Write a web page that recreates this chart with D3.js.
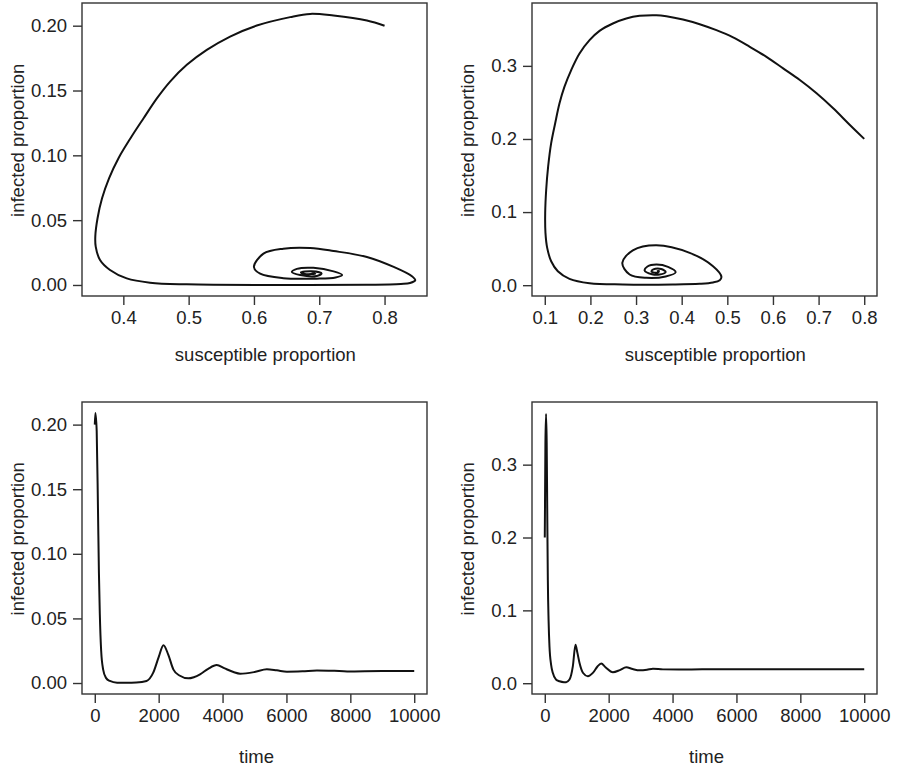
<!DOCTYPE html>
<html>
<head>
<meta charset="utf-8">
<script src="https://cdn.jsdelivr.net/npm/d3@7"></script>
<style>
  body { margin: 0; background: #fff; }
  svg text { font-family: "Liberation Sans", Arial, Helvetica, sans-serif; fill: #222; }
</style>
</head>
<body>
<svg id="chart" width="897" height="769"></svg>
<script>
// tick values
const ticksPhaseXA = [0.4, 0.5, 0.6, 0.7, 0.8];
const ticksPhaseXB = [0.1, 0.2, 0.3, 0.4, 0.5, 0.6, 0.7, 0.8];
const ticksTime = [0, 2000, 4000, 6000, 8000, 10000];
const ticksInfA = [0, 0.05, 0.10, 0.15, 0.20];
const ticksInfB = [0, 0.1, 0.2, 0.3];

// phase portrait, first run: [susceptible, infected]
const phaseA = [
  [0.800,0.2000],[0.773,0.2040],[0.7218,0.2078],[0.6861,0.2091],[0.6555,0.2066],[0.6044,0.2001],
  [0.5635,0.1916],[0.5278,0.1813],[0.4972,0.1698],[0.4716,0.1569],[0.4516,0.1441],[0.4310,0.1286],
  [0.4110,0.1132],[0.3926,0.0978],[0.3781,0.0823],[0.3674,0.0669],[0.3605,0.0515],[0.3571,0.0378],
  [0.3577,0.0296],[0.3643,0.0193],[0.3796,0.0116],[0.4052,0.0051],[0.4409,0.0018],[0.4971,0.0005],
  [0.620,0.0000],[0.773,0.0002],[0.825,0.0008],[0.839,0.0015],[0.847,0.0036],[0.842,0.0067],
  [0.814,0.0139],[0.773,0.0216],[0.722,0.0262],[0.686,0.0285],[0.645,0.0280],[0.6146,0.0242],
  [0.600,0.0139],[0.6095,0.0087],[0.645,0.0052],[0.696,0.0049],[0.725,0.0058],[0.735,0.0077],
  [0.722,0.0105],[0.691,0.0132],[0.6657,0.0124],[0.658,0.0100],[0.6708,0.0077],[0.6964,0.0070],
  [0.7035,0.0090],[0.688,0.0105],[0.672,0.0097],[0.678,0.0085],[0.694,0.0087],[0.688,0.0092]
];

// phase portrait, second run
const phaseB = [
  [0.800,0.2001],[0.7686,0.2192],[0.732,0.2420],[0.6956,0.2625],[0.6589,0.2806],[0.6223,0.2966],
  [0.5858,0.3124],[0.5492,0.3261],[0.5126,0.3389],[0.4761,0.3488],[0.4395,0.3570],[0.4028,0.3634],
  [0.3664,0.3679],[0.3445,0.3693],[0.3078,0.3684],[0.2786,0.3648],[0.2492,0.3580],[0.2200,0.3479],
  [0.1981,0.3352],[0.1761,0.3170],[0.1579,0.2943],[0.1432,0.2715],[0.1323,0.2488],[0.1228,0.2216],
  [0.1140,0.1943],[0.1074,0.1624],[0.1031,0.1306],[0.1009,0.0988],[0.1015,0.0715],[0.1053,0.0510],
  [0.1140,0.0327],[0.1286,0.0191],[0.1542,0.0087],[0.1981,0.0027],[0.2712,0.0010],[0.3809,0.0010],
  [0.4395,0.0019],[0.4687,0.0037],[0.4834,0.0068],[0.4871,0.0115],[0.4687,0.0260],[0.4175,0.0442],
  [0.3445,0.0546],[0.293,0.0477],[0.2699,0.0306],[0.2859,0.0146],[0.3225,0.0101],[0.365,0.0120],
  [0.3868,0.0177],[0.370,0.0250],[0.3445,0.0282],[0.325,0.0255],[0.3188,0.0200],[0.335,0.0150],
  [0.3517,0.0146],[0.365,0.0180],[0.355,0.0222],[0.338,0.0215],[0.334,0.0185],[0.348,0.0172],
  [0.350,0.0195],[0.3458,0.0191]
];

// infected proportion over time: [time, infected]
const seriesA = [
  [0,0.200],[20,0.209],[60,0.195],[100,0.135],[130,0.085],[157,0.054],[200,0.025],[261,0.0106],
  [350,0.0040],[471,0.0016],[700,0.0003],[1000,0.0002],[1300,0.0004],[1621,0.0016],[1830,0.0080],
  [2000,0.0200],[2150,0.0293],[2300,0.0220],[2458,0.0106],[2650,0.0058],[2929,0.0036],[3100,0.0045],
  [3295,0.0067],[3550,0.0110],[3818,0.0139],[4050,0.0115],[4341,0.0085],[4550,0.0072],[5000,0.0085],
  [5387,0.0106],[5700,0.0098],[6015,0.0088],[6500,0.0091],[6956,0.0097],[7500,0.0094],[7900,0.0090],
  [9000,0.0093],[10000,0.0093]
];

const seriesB = [
  [0,0.200],[20,0.330],[40,0.3697],[60,0.330],[80,0.220],[96,0.1415],[120,0.085],[147,0.0505],
  [200,0.025],[251,0.0142],[350,0.0050],[460,0.0027],[600,0.0015],[669,0.0015],[774,0.0050],
  [878,0.0232],[962,0.0528],[1020,0.0420],[1088,0.0278],[1200,0.0140],[1348,0.0096],[1505,0.0142],
  [1650,0.0230],[1767,0.0269],[1900,0.0220],[2132,0.0150],[2350,0.0180],[2550,0.0219],[2750,0.0195],
  [2968,0.0177],[3200,0.0185],[3386,0.0200],[3700,0.0190],[4200,0.0188],[5000,0.0191],[10000,0.0191]
];

var svg = d3.select("#chart");
var FONT_SIZE = "18.5px";

var panels = [
  { box: [82, 3, 427, 296], data: phaseA, xDom: [0.3367, 0.865], yDom: [-0.0085, 0.2175],
    xTicks: ticksPhaseXA, yTicks: ticksInfA, xFmt: ".1f", yFmt: ".2f",
    xLab: "susceptible proportion", xLabY: 361, curve: d3.curveCatmullRom.alpha(0.5) },
  { box: [532, 3, 877, 296], data: phaseB, xDom: [0.072, 0.828], yDom: [-0.0148, 0.386],
    xTicks: ticksPhaseXB, yTicks: ticksInfB, xFmt: ".1f", yFmt: ".1f",
    xLab: "susceptible proportion", xLabY: 361, curve: d3.curveCatmullRom.alpha(0.5) },
  { box: [82, 402, 427, 694], data: seriesA, xDom: [-400, 10400], yDom: [-0.0085, 0.2175],
    xTicks: ticksTime, yTicks: ticksInfA, xFmt: "d", yFmt: ".2f",
    xLab: "time", xLabY: 763, curve: d3.curveMonotoneX },
  { box: [532, 402, 877, 694], data: seriesB, xDom: [-400, 10400], yDom: [-0.0148, 0.386],
    xTicks: ticksTime, yTicks: ticksInfB, xFmt: "d", yFmt: ".1f",
    xLab: "time", xLabY: 763, curve: d3.curveMonotoneX }
];

panels.forEach(function (p) {
    var x0 = p.box[0], y0 = p.box[1], x1 = p.box[2], y1 = p.box[3];
    var x = d3.scaleLinear().domain(p.xDom).range([x0, x1]);
    var y = d3.scaleLinear().domain(p.yDom).range([y1, y0]);
    var g = svg.append("g");

    // curve
    var line = d3.line()
        .x(function (d) { return x(d[0]); })
        .y(function (d) { return y(d[1]); })
        .curve(p.curve);
    g.append("path")
        .datum(p.data)
        .attr("d", line)
        .style("fill", "none")
        .style("stroke", "#111")
        .style("stroke-width", 2)
        .style("stroke-linejoin", "round");

    // box
    g.append("rect")
        .attr("x", x0).attr("y", y0)
        .attr("width", x1 - x0).attr("height", y1 - y0)
        .style("fill", "none")
        .style("stroke", "#333")
        .style("stroke-width", 1.4);

    // axes
    var ax = g.append("g")
        .attr("transform", "translate(0," + y1 + ")")
        .call(d3.axisBottom(x).tickValues(p.xTicks).tickFormat(d3.format(p.xFmt))
            .tickSize(9).tickSizeOuter(0).tickPadding(6));
    var ay = g.append("g")
        .attr("transform", "translate(" + x0 + ",0)")
        .call(d3.axisLeft(y).tickValues(p.yTicks).tickFormat(d3.format(p.yFmt))
            .tickSize(9).tickSizeOuter(0).tickPadding(6));
    [ax, ay].forEach(function (a) {
        a.select(".domain").remove();
        a.selectAll("line").style("stroke", "#333").style("stroke-width", 1.4);
        a.selectAll("text").style("font-size", FONT_SIZE).style("fill", "#222")
            .attr("font-family", null);
    });

    // titles (R offsets them a little towards their end)
    var cx = (x0 + x1) / 2, cy = (y0 + y1) / 2;
    var tx = g.append("text")
        .attr("text-anchor", "middle")
        .style("font-size", FONT_SIZE)
        .attr("y", p.xLabY)
        .text(p.xLab);
    tx.attr("x", cx + 0.06 * tx.node().getComputedTextLength());

    var ty = g.append("text")
        .attr("text-anchor", "middle")
        .style("font-size", FONT_SIZE)
        .text("infected proportion");
    var shift = 0.06 * ty.node().getComputedTextLength();
    ty.attr("transform", "translate(" + (x0 - 58.5) + "," + (cy - shift) + ") rotate(-90)");
});
</script>
</body>
</html>
